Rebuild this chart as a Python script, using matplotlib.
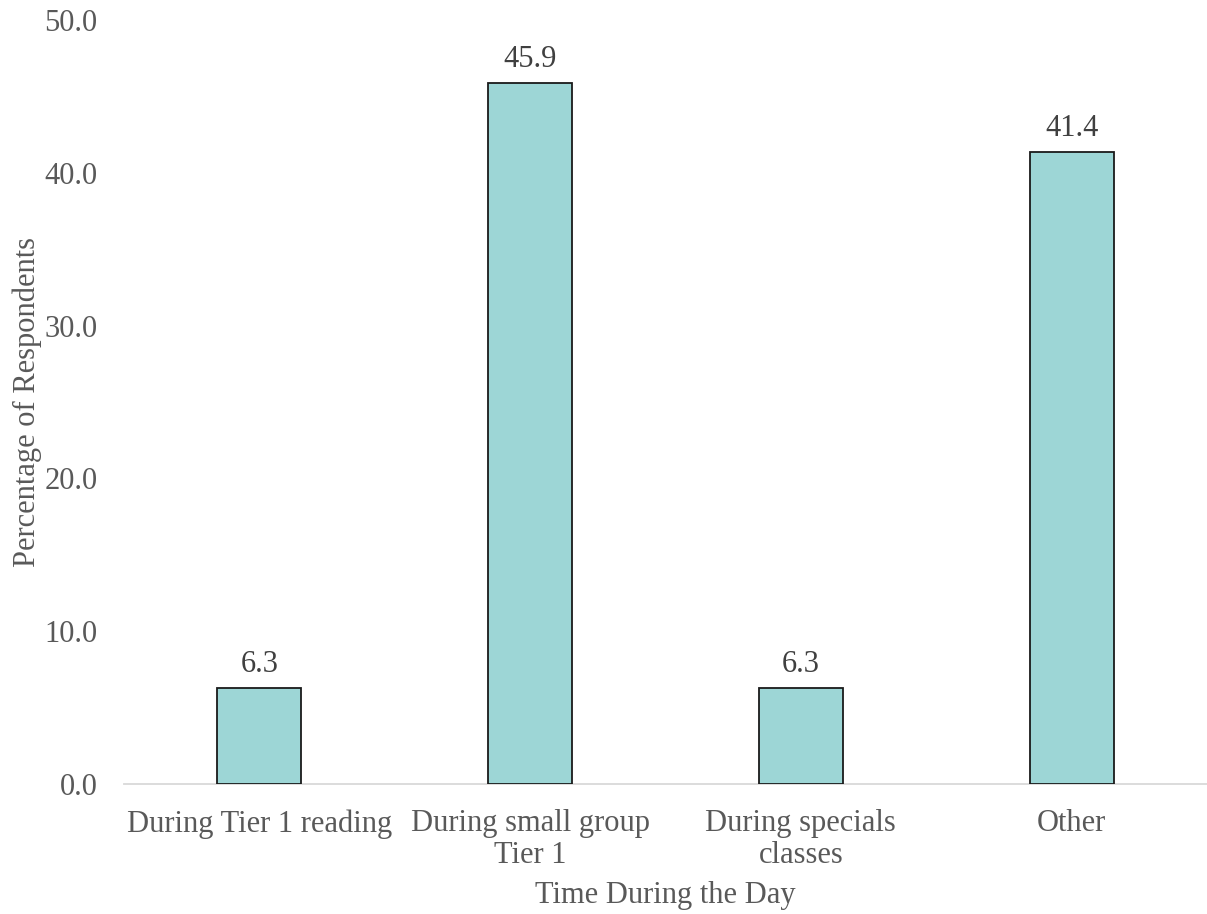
import matplotlib
matplotlib.use("Agg")
import matplotlib.pyplot as plt

categories = ["During Tier 1 reading", "During small group\nTier 1",
              "During specials\nclasses", "Other"]
values = [6.3, 45.9, 6.3, 41.4]
yticks = [0, 10, 20, 30, 40, 50]

plt.rcParams["font.family"] = ["Liberation Serif", "DejaVu Serif"]

fig = plt.figure(figsize=(12.07, 9.14), dpi=100)
ax = fig.add_axes([0.1027, 0.1422, 0.8973, 0.8358])

x = range(len(categories))
bars = ax.bar(x, values, width=0.31, color="#9DD6D6", edgecolor="#1a1a1a",
              linewidth=1.3, zorder=3)

for b, v in zip(bars, values):
    ax.annotate(f"{v:.1f}", (b.get_x() + b.get_width() / 2, v),
                xytext=(0, 6), textcoords="offset points",
                ha="center", va="bottom", fontsize=22, color="#404040")

ax.set_xlim(-0.5, len(categories) - 0.5)
ax.set_ylim(0, 50)
ax.set_yticks(yticks)
ax.set_yticklabels([f"{t:.1f}" for t in yticks], fontsize=22, color="#595959")
ax.set_xticks(list(x))
ax.set_xticklabels(categories, fontsize=22, color="#595959", linespacing=1.12)
ax.tick_params(axis="both", length=0)
ax.tick_params(axis="x", pad=18)
ax.tick_params(axis="y", pad=19)

for s in ["top", "right", "left"]:
    ax.spines[s].set_visible(False)
ax.spines["bottom"].set_color("#D9D9D9")
ax.spines["bottom"].set_linewidth(1.3)

ax.set_xlabel("Time During the Day", fontsize=22, color="#595959", labelpad=8)
ax.set_ylabel("Percentage of Respondents", fontsize=22, color="#595959", labelpad=2)

fig.savefig("out.png", dpi=100)
